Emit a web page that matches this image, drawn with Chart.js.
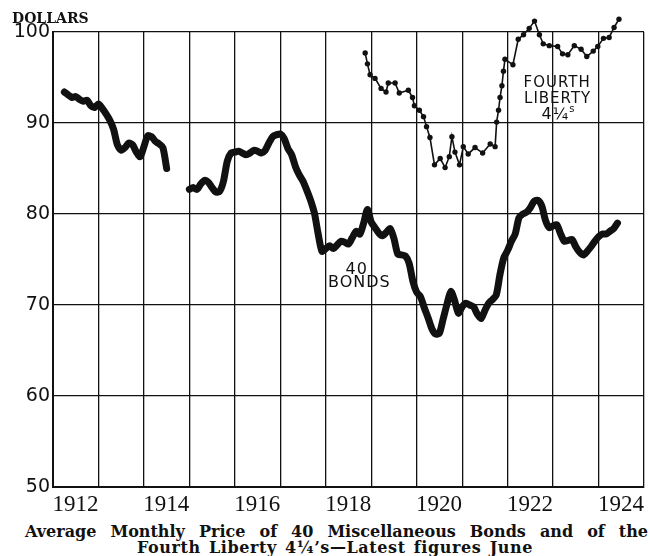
<!DOCTYPE html>
<html>
<head>
<meta charset="utf-8">
<script src="https://cdn.jsdelivr.net/npm/chart.js@4.4.1/dist/chart.umd.min.js"></script>
<style>
    html, body { margin: 0; padding: 0; background: #fff; }
    #wrap { position: relative; width: 650px; height: 556px; overflow: hidden; }
    #chartBox { position: absolute; left: 0; top: 0; width: 650px; height: 515px; }
    .caption {
        position: absolute;
        font: bold 16px "DejaVu Serif", serif;
        line-height: 16px;
        color: #111;
        white-space: nowrap;
    }
    #cap1 { top: 523.5px; left: 25px; width: 623px; text-align: justify; text-align-last: justify; white-space: normal; }
    #cap2 { top: 539.5px; left: 0; width: 670px; text-align: center; letter-spacing: 0.6px; word-spacing: 2px; }
</style>
</head>
<body>
<div id="wrap">
    <div id="chartBox"><canvas id="chart"></canvas></div>
    <div class="caption" id="cap1">Average Monthly Price of 40 Miscellaneous Bonds and of the</div>
    <div class="caption" id="cap2">Fourth Liberty 4¼’s—Latest figures June</div>
</div>
<script>
const INK = "#111111";

// months are counted from January 1912 (0 = Jan 1912)
const BOND_FIRST_MONTH = 3;
// 40 miscellaneous bonds, Apr 1912 - Jun 1924 (exchange closed Aug - Dec 1914)
const bondPrices = [
    93.4, 93.1, 92.8, 92.9, 92.6, 92.4, 92.5, 91.9, 91.7,
    92.1, 91.6, 91.0, 90.3, 89.3, 87.6, 87.0, 87.3, 87.8, 87.6, 86.8, 86.3,
    87.4, 88.6, 88.5, 88.0, 87.7, 87.3, 85.0,
    null, null, null, null, null,
    82.7, 82.9, 82.7, 83.3, 83.7, 83.5, 82.9, 82.4, 82.5, 83.6, 85.8, 86.7,
    86.8, 86.9, 86.7, 86.5, 86.7, 87.0, 86.9, 86.7, 87.0, 87.8, 88.5, 88.7,
    88.8, 88.3, 87.2, 86.5, 85.2, 84.3, 83.6, 82.6, 81.5, 80.1, 77.8, 75.9,
    76.2, 76.5, 76.2, 76.6, 77.0, 76.9, 76.7, 77.4, 78.1, 77.8, 79.0, 80.5,
    79.1, 78.5, 77.9, 77.6, 78.0, 78.4, 77.3, 75.6, 75.5, 75.4, 74.6, 72.6,
    71.4, 70.9, 69.7, 68.6, 67.4, 66.8, 66.9, 68.5, 70.1, 71.5, 70.5, 69.1,
    69.8, 70.2, 70.0, 69.8, 69.0, 68.5, 69.4, 70.2, 70.6, 71.1, 73.4, 75.2,
    76.0, 77.0, 77.8, 79.6, 80.0, 80.2, 80.7, 81.4, 81.5, 80.9, 79.3, 78.5,
    78.7, 78.8, 77.8, 77.0, 77.1, 77.2, 76.4, 75.8, 75.5, 75.9, 76.4, 77.0,
    77.5, 77.8, 77.8, 78.1, 78.4, 79.0
];

// Fourth Liberty 4 1/4's, plotted points (month position, price)
const libertyMonths = [
    82.4, 83.0, 83.7, 85.0, 86.6, 87.9, 88.5, 90.3, 91.4, 93.8, 94.9, 95.4,
    96.7, 97.8, 98.6, 99.5, 100.7, 102.2, 103.5, 104.6, 105.3, 106.1, 107.3, 108.3,
    109.6, 111.4, 113.4, 115.4, 116.7, 117.1, 117.6, 118.0, 118.5, 118.9, 119.3, 121.4,
    122.8, 124.2, 125.7, 127.1, 128.4, 129.4, 131.0, 133.2, 134.5, 135.9, 137.6, 139.4,
    140.9, 142.6, 143.8, 145.3, 146.8, 148.1, 149.4
];
const libertyPrices = [
    97.7, 96.5, 95.3, 94.9, 93.8, 93.4, 94.4, 94.4, 93.3, 93.6, 92.8, 91.9,
    91.4, 90.7, 89.6, 88.4, 85.4, 86.1, 85.1, 86.3, 88.5, 86.8, 85.4, 87.4,
    86.6, 87.3, 86.7, 87.7, 87.4, 90.1, 91.4, 92.8, 94.1, 95.7, 97.0, 96.4,
    99.2, 99.7, 100.4, 101.2, 99.7, 98.7, 98.5, 98.4, 97.6, 97.5, 98.5, 98.1,
    97.3, 97.9, 98.4, 99.3, 99.4, 100.5, 101.4
];

const yearTicks = [1912, 1913, 1914, 1915, 1916, 1917, 1918, 1919, 1920, 1921, 1922, 1923, 1924, 1925];
const yearLabels = [1912, 1914, 1916, 1918, 1920, 1922, 1924];
const priceTicks = [50, 60, 70, 80, 90, 100];

const toYear = (month) => 1912 + month / 12;

const bondPoints = bondPrices.map((price, i) => ({ x: toYear(BOND_FIRST_MONTH + i), y: price }));
const libertyPoints = libertyMonths.map((month, i) => ({ x: toYear(month), y: libertyPrices[i] }));

// hand-lettered notes on the chart, placed in data units
const notes = [
    { text: "FOURTH", x: 1923.09, y: 94.4, size: 15 },
    { text: "LIBERTY", x: 1923.1, y: 92.6, size: 15 },
    { text: "4¼", sup: "s", x: 1923.12, y: 90.9, size: 16 },
    { text: "40", x: 1918.68, y: 73.9, size: 16 },
    { text: "BONDS", x: 1918.74, y: 72.4, size: 16 },
];

const notesPlugin = {
    id: "notes",
    afterDatasetsDraw(chart) {
        const { ctx, scales } = chart;
        ctx.save();
        ctx.fillStyle = INK;

        // Chart.js skips points outside the chart area, the Liberty dots run above 100
        const meta = chart.getDatasetMeta(0);
        for (const point of meta.data) {
            ctx.beginPath();
            ctx.arc(point.x, point.y, 2.7, 0, Math.PI * 2);
            ctx.fill();
        }

        ctx.textBaseline = "middle";
        ctx.textAlign = "left";
        ctx.letterSpacing = "1px";
        for (const note of notes) {
            const px = scales.x.getPixelForValue(note.x);
            const py = scales.y.getPixelForValue(note.y);
            ctx.font = `${note.size}px "DejaVu Sans", sans-serif`;
            const mainWidth = ctx.measureText(note.text).width;
            let supWidth = 0;
            if (note.sup) {
                ctx.font = `${Math.round(note.size * 0.6)}px "DejaVu Sans", sans-serif`;
                supWidth = ctx.measureText(note.sup).width;
            }
            const left = px - (mainWidth + supWidth) / 2;
            ctx.font = `${note.size}px "DejaVu Sans", sans-serif`;
            ctx.fillText(note.text, left, py);
            if (note.sup) {
                ctx.font = `${Math.round(note.size * 0.6)}px "DejaVu Sans", sans-serif`;
                ctx.fillText(note.sup, left + mainWidth, py - note.size * 0.35);
            }
        }
        ctx.restore();
    },
};

new Chart(document.getElementById("chart"), {
    type: "line",
    data: {
        datasets: [
            {
                label: "Fourth Liberty 4¼'s",
                data: libertyPoints,
                borderColor: INK,
                backgroundColor: INK,
                borderWidth: 1.6,
                pointRadius: 0,
                tension: 0,
                clip: false,
            },
            {
                label: "40 Bonds",
                data: bondPoints,
                borderColor: INK,
                borderWidth: 7,
                borderCapStyle: "round",
                borderJoinStyle: "round",
                pointRadius: 0,
                tension: 0.25,
                spanGaps: false,
                clip: false,
            },
        ],
    },
    options: {
        responsive: true,
        maintainAspectRatio: false,
        animation: false,
        layout: { padding: { left: 12, right: 6, top: 0, bottom: 0 } },
        plugins: {
            legend: { display: false },
            tooltip: { enabled: false },
            title: {
                display: true,
                text: "DOLLARS",
                align: "start",
                color: INK,
                font: { family: '"DejaVu Serif", serif', size: 14, weight: "bold", lineHeight: 1 },
                padding: { top: 12, bottom: 6 },
            },
        },
        scales: {
            x: {
                type: "linear",
                min: 1912,
                max: 1925,
                afterBuildTicks(scale) {
                    scale.ticks = yearTicks.map((value) => ({ value }));
                },
                afterFit(scale) {
                    scale.height = 28;
                },
                grid: { color: INK, lineWidth: 1.3, drawTicks: false },
                border: { color: INK, width: 2 },
                ticks: {
                    autoSkip: false,
                    maxRotation: 0,
                    padding: 4,
                    labelOffset: 22.4,
                    color: INK,
                    font: { family: '"Liberation Serif", serif', size: 23 },
                    callback: (value) => (yearLabels.includes(value) ? String(value) : ""),
                },
            },
            y: {
                min: 50,
                max: 100,
                afterBuildTicks(scale) {
                    scale.ticks = priceTicks.map((value) => ({ value }));
                },
                afterFit(scale) {
                    scale.width = 41;
                },
                grid: { color: INK, lineWidth: 1.3, drawTicks: false },
                border: { color: INK, width: 2 },
                ticks: {
                    padding: 3,
                    color: INK,
                    font: { family: '"DejaVu Sans", sans-serif', size: 19 },
                },
            },
        },
    },
    plugins: [notesPlugin],
});
</script>
</body>
</html>
